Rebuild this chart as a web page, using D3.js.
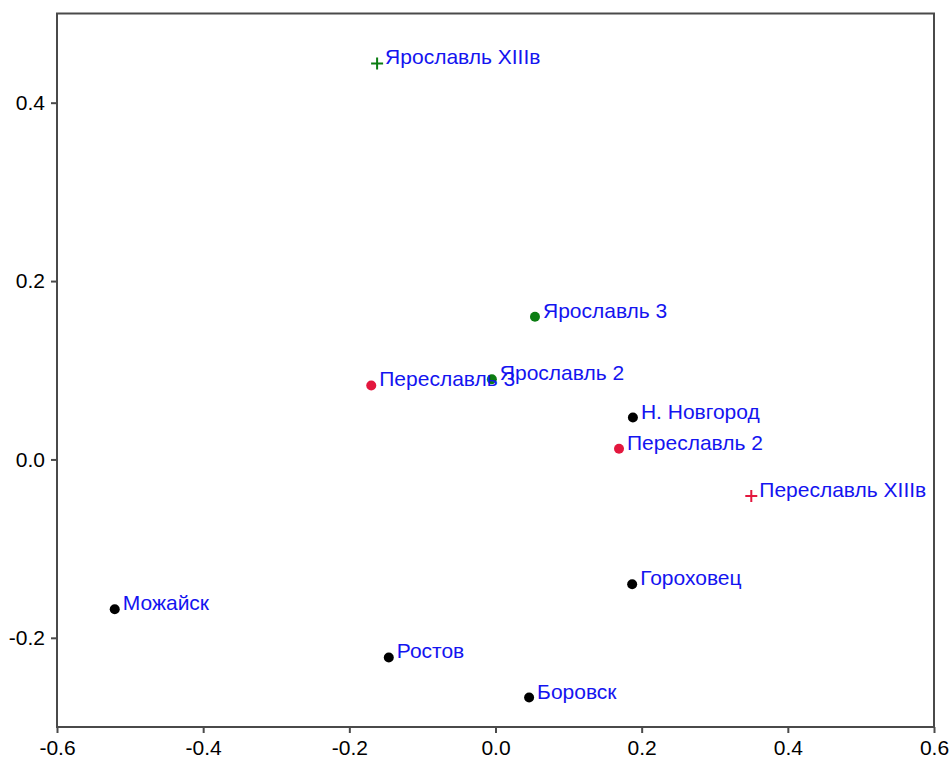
<!DOCTYPE html>
<html>
  <head>
    <meta charset="utf-8">
    <title></title>
    <style type="text/css">
        html, body{
            padding: 0px;
            margin: 0px;
            background: #fff;
            font-family: "Liberation Sans", Arial, sans-serif;
        }
    </style>
  </head>
  <body>
    <div id="vis"></div>
    <script src="https://cdnjs.cloudflare.com/ajax/libs/d3/7.8.5/d3.min.js"></script>
    <script type="text/javascript">

        // data
        var names = ["Ярославль XIIIв", "Ярославль 3", "Ярославль 2", "Переславль 3",
                     "Н. Новгород", "Переславль 2", "Переславль XIIIв", "Гороховец",
                     "Можайск", "Ростов", "Боровск"];
        var xs = [-0.162, 0.054, -0.005, -0.170, 0.188, 0.169, 0.350, 0.187, -0.521, -0.146, 0.046];
        var ys = [0.444, 0.160, 0.090, 0.083, 0.047, 0.012, -0.041, -0.140, -0.168, -0.222, -0.267];
        var groups = ["yar", "yar", "yar", "per", "other", "per", "per", "other", "other", "other", "other"];
        var kinds = ["plus", "dot", "dot", "dot", "dot", "dot", "plus", "dot", "dot", "dot", "dot"];
        var xTicks = [-0.6, -0.4, -0.2, 0.0, 0.2, 0.4, 0.6];
        var yTicks = [-0.2, 0.0, 0.2, 0.4];

        var colors = {yar: "#0b7d12", per: "#e3173e", other: "#000000"};

        var width = 951, height = 758;
        var mLeft = 57, mRight = 934, mTop = 13.5, mBottom = 727;

        var x = d3.scaleLinear().domain([-0.6, 0.6]).range([mLeft, mRight]);
        var y = d3.scaleLinear().domain([-0.3, 0.5]).range([mBottom, mTop]);

        var fmt = function(d){ return d3.format(".1f")(d).replace("\u2212", "-"); };

        var svg = d3.select("#vis").append("svg")
            .attr("width", width)
            .attr("height", height);

        // frame
        svg.append("rect")
            .attr("x", mLeft)
            .attr("y", mTop)
            .attr("width", mRight - mLeft)
            .attr("height", mBottom - mTop)
            .attr("fill", "none")
            .attr("stroke", "#4a4a4a")
            .attr("stroke-width", 2);

        var xAxis = svg.append("g")
            .attr("transform", "translate(0," + mBottom + ")")
            .call(d3.axisBottom(x).tickValues(xTicks).tickFormat(fmt).tickSize(6).tickPadding(3));

        var yAxis = svg.append("g")
            .attr("transform", "translate(" + mLeft + ",0)")
            .call(d3.axisLeft(y).tickValues(yTicks).tickFormat(fmt).tickSize(6).tickPadding(6));

        [xAxis, yAxis].forEach(function(a){
            a.select(".domain").remove();
            a.selectAll(".tick line").attr("stroke", "#4a4a4a").attr("stroke-width", 2);
            a.selectAll(".tick text")
                .attr("fill", "#000")
                .style("font-family", "'Liberation Sans', Arial, sans-serif")
                .style("font-size", "21px");
        });
        xAxis.selectAll(".tick text").attr("dy", "0.9em");

        var points = names.map(function(n, i){
            return {name: n, x: xs[i], y: ys[i], group: groups[i], kind: kinds[i]};
        });

        var pts = svg.append("g").selectAll("g")
            .data(points)
            .enter().append("g")
            .attr("transform", function(d){ return "translate(" + x(d.x) + "," + y(d.y) + ")"; });

        pts.filter(function(d){ return d.kind === "dot"; })
            .append("circle")
            .attr("r", 5)
            .attr("fill", function(d){ return colors[d.group]; });

        pts.filter(function(d){ return d.kind === "plus"; })
            .append("path")
            .attr("d", "M-6,0H6M0,-6V6")
            .attr("stroke", function(d){ return colors[d.group]; })
            .attr("stroke-width", 2);

        pts.append("text")
            .attr("x", 8)
            .attr("y", 1)
            .attr("fill", "#1414f0")
            .style("font-size", "21px")
            .text(function(d){ return d.name; });

    </script>
  </body>
</html>
